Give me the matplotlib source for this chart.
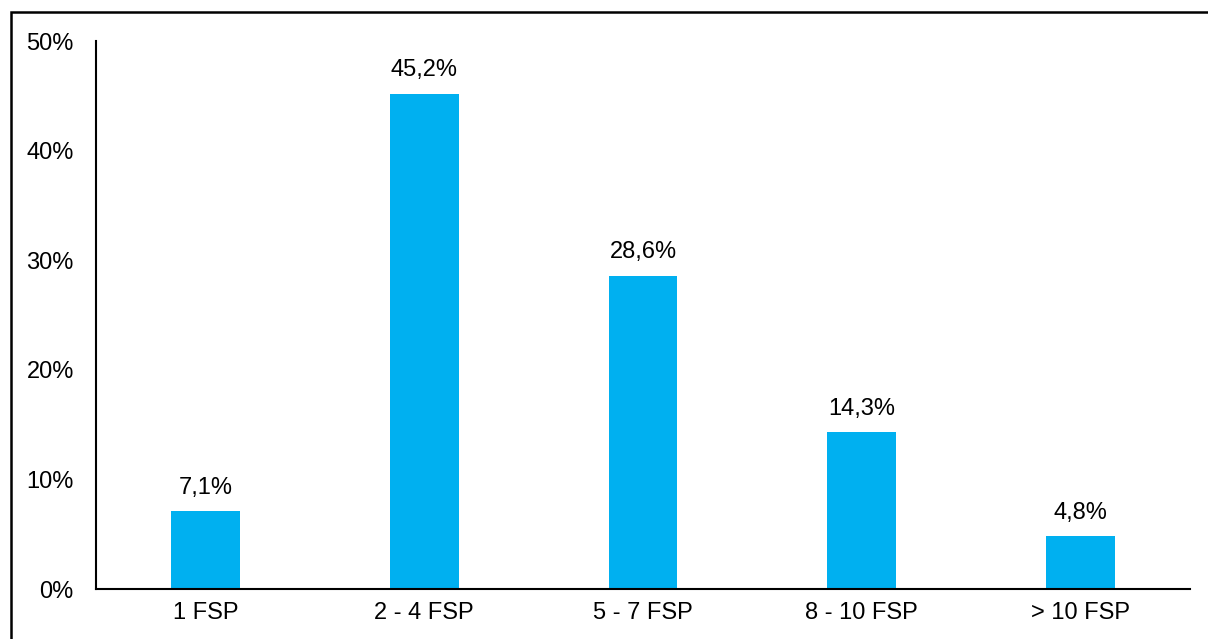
import matplotlib
matplotlib.use('Agg')
import matplotlib.pyplot as plt
from matplotlib.patches import Rectangle
from matplotlib.ticker import FuncFormatter

categories = ['1 FSP', '2 - 4 FSP', '5 - 7 FSP', '8 - 10 FSP', '> 10 FSP']
values = [7.1, 45.2, 28.6, 14.3, 4.8]
yticks = [0, 10, 20, 30, 40, 50]

plt.rcParams['font.family'] = ['Liberation Sans', 'DejaVu Sans']

fig = plt.figure(figsize=(12.08, 6.39), dpi=100)
ax = fig.add_axes([0.0795, 0.0782, 0.9055, 0.857])

x = list(range(len(categories)))
ax.bar(x, values, width=0.315, color='#00B0F0', zorder=2)
for xi, v in zip(x, values):
    ax.annotate(('%.1f%%' % v).replace('.', ','), (xi, v), xytext=(0, 9),
                textcoords='offset points', ha='center', va='bottom', fontsize=17)

ax.set_xlim(-0.5, len(categories) - 0.5)
ax.set_ylim(0, 50)
ax.set_yticks(yticks)
ax.yaxis.set_major_formatter(FuncFormatter(lambda v, p: '%d%%' % v))
ax.set_xticks(x)
ax.set_xticklabels(categories)
ax.tick_params(axis='both', length=0, labelsize=17)
ax.tick_params(axis='y', pad=16)
ax.tick_params(axis='x', pad=9)
for s in ['top', 'right']:
    ax.spines[s].set_visible(False)
for s in ['left', 'bottom']:
    ax.spines[s].set_linewidth(1.5)

# outer frame, runs past the right and bottom edges
fig.patches.append(Rectangle((0.0087, -0.05), 1.05, 0.05 + 0.981, transform=fig.transFigure,
                             fill=False, edgecolor='black', linewidth=1.8))

fig.savefig('out.png', dpi=100)
